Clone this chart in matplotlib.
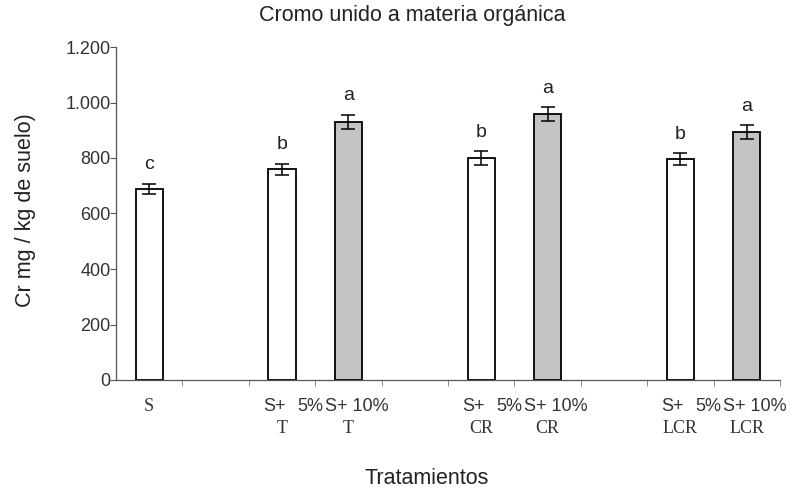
import numpy as np
import matplotlib
matplotlib.use('Agg')
import matplotlib.pyplot as plt
from matplotlib.ticker import FuncFormatter

# treatment slots (empty strings are gaps between groups)
prefix = ["", "", "S+ 5%", "S+ 10%", "", "S+ 5%", "S+ 10%", "", "S+ 5%", "S+ 10%"]
residue = ["S", "", "T", "T", "", "CR", "CR", "", "LCR", "LCR"]
cr_values = [690, np.nan, 760, 930, np.nan, 800, 958, np.nan, 796, 894]
cr_err = [18, np.nan, 20, 26, np.nan, 25, 26, np.nan, 22, 24]
letters = ["c", "", "b", "a", "", "b", "a", "", "b", "a"]
filled = [False, False, False, True, False, False, True, False, False, True]

fig = plt.figure(figsize=(7.91, 4.93), dpi=100)
ax = fig.add_axes([116/791, 1 - 380/493, 664/791, 333/493])

x = np.arange(len(residue))
colors = ['#c4c4c4' if f else 'white' for f in filled]
ax.bar(x, cr_values, width=0.41, color=colors, edgecolor='black', linewidth=1.3, zorder=2)
ax.errorbar(x, cr_values, yerr=cr_err, fmt='none', ecolor='black',
            elinewidth=1.1, capsize=5, capthick=1.1, zorder=3)

for i in range(len(x)):
    if letters[i]:
        ax.text(x[i], cr_values[i] + cr_err[i] + 68, letters[i], ha='center', va='center',
                fontsize=14, color='#222222', family='Liberation Sans')

ax.set_xlim(-0.5, len(x) - 0.5)
ax.set_ylim(0, 1200)
ax.set_yticks(np.arange(0, 1201, 200))
ax.yaxis.set_major_formatter(FuncFormatter(lambda v, p: f"{int(v):,}".replace(",", ".")))
ax.set_xticks(np.arange(0.5, len(x), 1.0))
ax.set_xticklabels([])
ax.tick_params(axis='x', direction='out', length=4, width=0.6, color='#777777')
ax.tick_params(axis='y', direction='out', length=4, width=0.8, color='#555555',
               labelsize=13, labelcolor='#333333', pad=0)
for lab in ax.get_yticklabels():
    lab.set_family('Liberation Sans')

for s in ['top', 'right']:
    ax.spines[s].set_visible(False)
ax.spines['left'].set_color('#555555')
ax.spines['left'].set_linewidth(0.9)
ax.spines['bottom'].set_color('#555555')
ax.spines['bottom'].set_linewidth(0.9)

tr = ax.get_xaxis_transform()
px = 1 / 66.4  # one pixel in slot units
for i in range(len(x)):
    if prefix[i] == "S+ 5%":
        ax.text(x[i] - 19 * px, -0.081, "S+", transform=tr, ha='left', va='center',
                fontsize=13, color='#333333', family='Liberation Sans')
        ax.text(x[i] + 41 * px, -0.081, "5%", transform=tr, ha='right', va='center',
                fontsize=13, color='#333333', family='Liberation Sans')
    elif prefix[i] == "S+ 10%":
        ax.text(x[i] + 8 * px, -0.081, prefix[i], transform=tr, ha='center', va='center',
                fontsize=13, color='#333333', family='Liberation Sans')
    if residue[i]:
        ypos = -0.081 if residue[i] == "S" else -0.145
        ax.text(x[i], ypos, residue[i], transform=tr, ha='center', va='center',
                fontsize=13, color='#333333', family='Liberation Serif')

fig.text(412/791, 1 - 15/493, "Cromo unido a materia orgánica", ha='center', va='center',
         fontsize=15.5, color='#222222', family='Liberation Sans')
fig.text(26/791, 1 - 210/493, "Cr mg / kg de suelo)", ha='center', va='center',
         rotation=90, fontsize=15.5, color='#222222', family='Liberation Sans')
fig.text(427/791, 1 - 478/493, "Tratamientos", ha='center', va='center',
         fontsize=15.5, color='#222222', family='Liberation Sans')

fig.savefig('out.png', dpi=100)
